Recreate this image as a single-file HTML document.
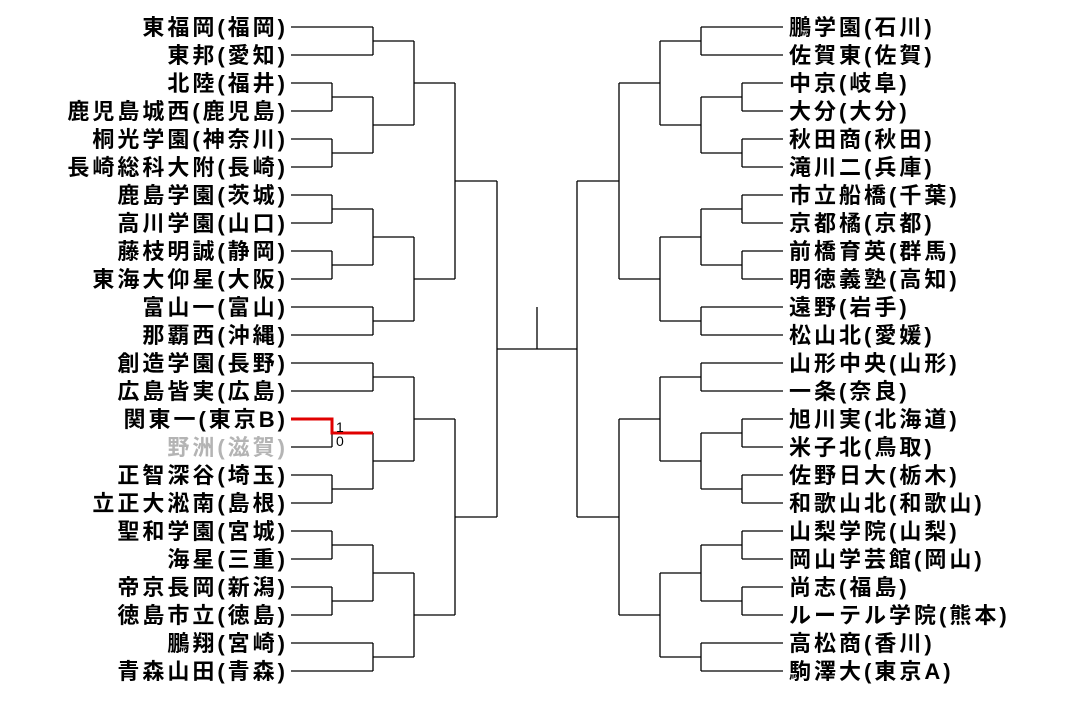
<!DOCTYPE html>
<html><head><meta charset="utf-8"><style>
html,body{margin:0;padding:0;background:#fff;}
svg{display:block;}
text{font-family:"Liberation Sans","Noto Sans CJK JP",sans-serif;font-size:22px;font-weight:bold;fill:#000;letter-spacing:3px;}
</style></head><body>
<svg width="1073" height="727" viewBox="0 0 1073 727" xmlns="http://www.w3.org/2000/svg">
<defs>
<path id="half" fill="none" stroke="#000" stroke-width="1.3" d="
M291 27H373 M291 55H373 M291 83H332 M291 111H332 M291 139H332 M291 167H332 M291 195H332 M291 223H332 M291 251H332 M291 279H332
M291 307H373 M291 335H373 M291 363H373 M291 391H373 M291 419H332 M291 447H332 M291 475H332 M291 503H332 M291 531H332 M291 559H332
M291 587H332 M291 615H332 M291 643H373 M291 671H373
M332 83V111 M332 139V167 M332 195V223 M332 251V279 M332 419V447 M332 475V503 M332 531V559 M332 587V615
M332 97H373 M332 153H373 M332 209H373 M332 265H373 M332 433H373 M332 489H373 M332 545H373 M332 601H373
M373 27V55 M373 97V153 M373 209V265 M373 307V335 M373 363V391 M373 433V489 M373 545V601 M373 643V671
M373 41H414 M373 125H414 M373 237H414 M373 321H414 M373 377H414 M373 461H414 M373 573H414 M373 657H414
M414 41V125 M414 237V321 M414 377V461 M414 573V657
M414 83H455 M414 279H455 M414 419H455 M414 615H455
M455 83V279 M455 419V615 M455 181H497 M455 517H497
M497 181V517 M497 349H537"/>
</defs>
<use href="#half"/>
<use href="#half" transform="translate(1074,0) scale(-1,1)"/>
<path d="M537 307V349" stroke="#000" stroke-width="1.3"/>
<path d="M291 419H332V433H373" fill="none" stroke="#e00000" stroke-width="3"/>
<text x="336" y="432" style="font-size:14px;font-weight:normal;letter-spacing:0">1</text>
<text x="336" y="446" style="font-size:14px;font-weight:normal;letter-spacing:0">0</text>
<g text-anchor="end">
<text x="288" y="35">東福岡(福岡)</text>
<text x="288" y="63">東邦(愛知)</text>
<text x="288" y="91">北陸(福井)</text>
<text x="288" y="119">鹿児島城西(鹿児島)</text>
<text x="288" y="147">桐光学園(神奈川)</text>
<text x="288" y="175">長崎総科大附(長崎)</text>
<text x="288" y="203">鹿島学園(茨城)</text>
<text x="288" y="231">高川学園(山口)</text>
<text x="288" y="259">藤枝明誠(静岡)</text>
<text x="288" y="287">東海大仰星(大阪)</text>
<text x="288" y="315">富山一(富山)</text>
<text x="288" y="343">那覇西(沖縄)</text>
<text x="288" y="371">創造学園(長野)</text>
<text x="288" y="399">広島皆実(広島)</text>
<text x="288" y="427">関東一(東京B)</text>
<text x="288" y="455" style="fill:#b4b4b4">野洲(滋賀)</text>
<text x="288" y="483">正智深谷(埼玉)</text>
<text x="288" y="511">立正大淞南(島根)</text>
<text x="288" y="539">聖和学園(宮城)</text>
<text x="288" y="567">海星(三重)</text>
<text x="288" y="595">帝京長岡(新潟)</text>
<text x="288" y="623">徳島市立(徳島)</text>
<text x="288" y="651">鵬翔(宮崎)</text>
<text x="288" y="679">青森山田(青森)</text>
</g>
<g>
<text x="789" y="35">鵬学園(石川)</text>
<text x="789" y="63">佐賀東(佐賀)</text>
<text x="789" y="91">中京(岐阜)</text>
<text x="789" y="119">大分(大分)</text>
<text x="789" y="147">秋田商(秋田)</text>
<text x="789" y="175">滝川二(兵庫)</text>
<text x="789" y="203">市立船橋(千葉)</text>
<text x="789" y="231">京都橘(京都)</text>
<text x="789" y="259">前橋育英(群馬)</text>
<text x="789" y="287">明徳義塾(高知)</text>
<text x="789" y="315">遠野(岩手)</text>
<text x="789" y="343">松山北(愛媛)</text>
<text x="789" y="371">山形中央(山形)</text>
<text x="789" y="399">一条(奈良)</text>
<text x="789" y="427">旭川実(北海道)</text>
<text x="789" y="455">米子北(鳥取)</text>
<text x="789" y="483">佐野日大(栃木)</text>
<text x="789" y="511">和歌山北(和歌山)</text>
<text x="789" y="539">山梨学院(山梨)</text>
<text x="789" y="567">岡山学芸館(岡山)</text>
<text x="789" y="595">尚志(福島)</text>
<text x="789" y="623">ルーテル学院(熊本)</text>
<text x="789" y="651">高松商(香川)</text>
<text x="789" y="679">駒澤大(東京A)</text>
</g>
</svg>
</body></html>
